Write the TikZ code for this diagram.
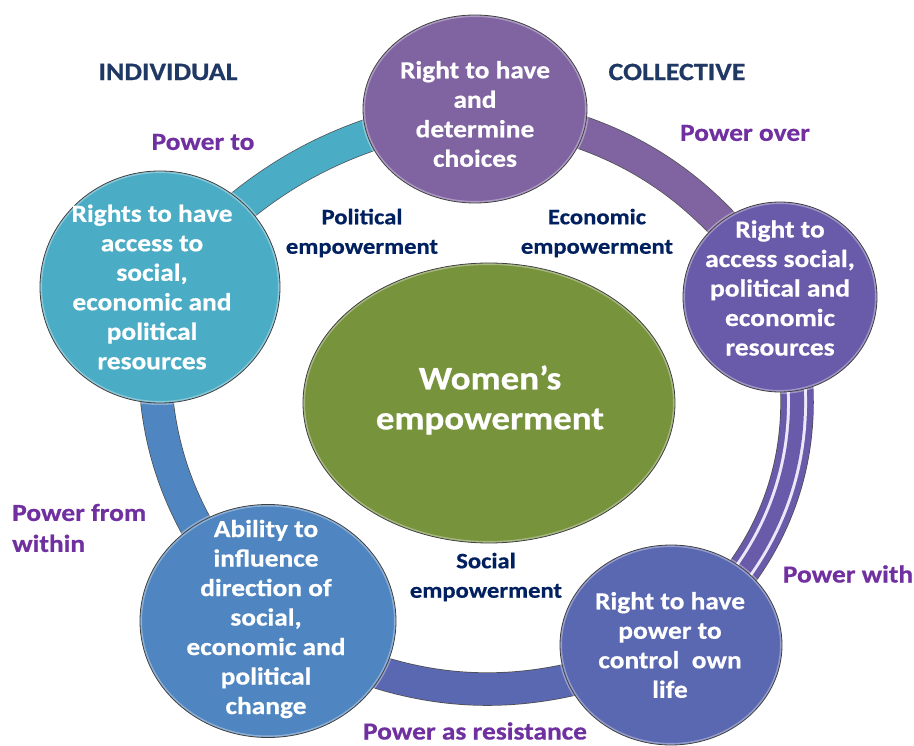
\documentclass[tikz,border=0pt]{standalone}
\usepackage{fontspec}
\setmainfont{Carlito}[FakeStretch=1.12, BoldFeatures={FakeStretch=1.12, FakeBold=0.6}]
\usetikzlibrary{shapes.geometric}
\pgfdeclarelayer{bg}
\pgfsetlayers{bg,main}
\definecolor{cTeal}{HTML}{4BACC6}
\definecolor{cPurT}{HTML}{8064A2}
\definecolor{cPurR}{HTML}{6A5BAA}
\definecolor{cBluR}{HTML}{5A67B1}
\definecolor{cBluL}{HTML}{4F85C0}
\definecolor{cGreen}{HTML}{77933C}
\definecolor{cLab}{HTML}{7030A0}
\definecolor{cNavy}{HTML}{002060}
\definecolor{cHead}{HTML}{1F3864}
\definecolor{cStripe}{HTML}{ECE8FA}
\begin{document}
\begin{tikzpicture}[x=1pt,y=-1pt,
  bubble/.style={ellipse, inner sep=0pt,
    preaction={fill=#1},
    preaction={draw=white, draw opacity=.35, line width=4pt},
    draw=black!75, line width=0.8pt},
  btext/.style={text=white, align=center, inner sep=0pt,
    font=\bfseries\fontsize{24.5}{29.5}\selectfont},
  band/.style={draw=black!70, line width=0.7pt, double=#1, double distance=32pt},
  powlab/.style={text=cLab, inner sep=0pt, font=\bfseries\fontsize{24.5}{31}\selectfont},
  emplab/.style={text=cNavy, align=center, inner sep=0pt, font=\bfseries\fontsize{22}{29.5}\selectfont},
  headlab/.style={text=cHead, inner sep=0pt, font=\bfseries\fontsize{25}{28}\selectfont}
]
\useasboundingbox (0,0) rectangle (914,746);

% bubbles
\node[bubble=cPurT, minimum width=224pt, minimum height=188pt] (T) at (475,109) {};
\node[bubble=cTeal, minimum width=240pt, minimum height=232pt] (L) at (160,287) {};
\node[bubble=cPurR, minimum width=194pt, minimum height=190pt] (R) at (780,297) {};
\node[bubble=cBluL, minimum width=256pt, minimum height=233pt] (BL) at (268,621) {};
\node[bubble=cBluR, minimum width=222pt, minimum height=200pt] (BR) at (671,645) {};
\node[bubble=cGreen, minimum width=372pt, minimum height=280pt] (G) at (489,403) {};

% ring bands
\begin{pgfonlayer}{bg}
\fill[white] (0,0) rectangle (914,746);
\draw[band=cTeal] (L.center) to[bend left=20] (T.center);
\draw[band=cPurT] (T.center) to[bend left=25] (R.center);
\draw[band=cPurR] (R.center) to[bend left=35] (BR.center);
\draw[line width=20pt, draw=cStripe] (R.center) to[bend left=35] (BR.center);
\draw[line width=14pt, draw=cPurR] (R.center) to[bend left=35] (BR.center);
\draw[band=cBluR] (BR.center) to[bend left=28] (BL.center);
\draw[band=cBluL] (BL.center) to[bend left=26] (L.center);
\end{pgfonlayer}

% bubble texts
\node[btext] (tT) at (475,114) {Right to have\\and\\determine\\choices};
\node[btext] (tL) at (152,287) {Rights to have\\access to\\social,\\economic and\\political\\resources};
\node[btext] (tR) at (780,288) {Right to\\access social,\\political and\\economic\\resources};
\node[btext] (tBL) at (266,619) {Ability to\\influence\\direction of\\social,\\economic and\\political\\change};
\node[btext] (tBR) at (670,645) {Right to have\\power to\\control~ own\\life};
\node[text=white, align=center, inner sep=0pt, font=\bfseries\fontsize{33}{40}\selectfont] (tG) at (490,400) {Women’s\\empowerment};

% headings and labels
\node[headlab] (ind) at (168,72) {INDIVIDUAL};
\node[headlab] (col) at (677,72) {COLLECTIVE};
\node[powlab] (p1) at (203,142) {Power to};
\node[powlab] (p2) at (745,133) {Power over};
\node[powlab] (p3) at (848,574) {Power with};
\node[powlab] (p4) at (475,731) {Power as resistance};
\node[powlab, align=left, anchor=west] (p5) at (12,528) {Power from\\within};
\node[emplab] (e1) at (362,233) {Political\\empowerment};
\node[emplab] (e2) at (597,233) {Economic\\empowerment};
\node[emplab] (e3) at (486,577) {Social\\empowerment};
\end{tikzpicture}
\end{document}
